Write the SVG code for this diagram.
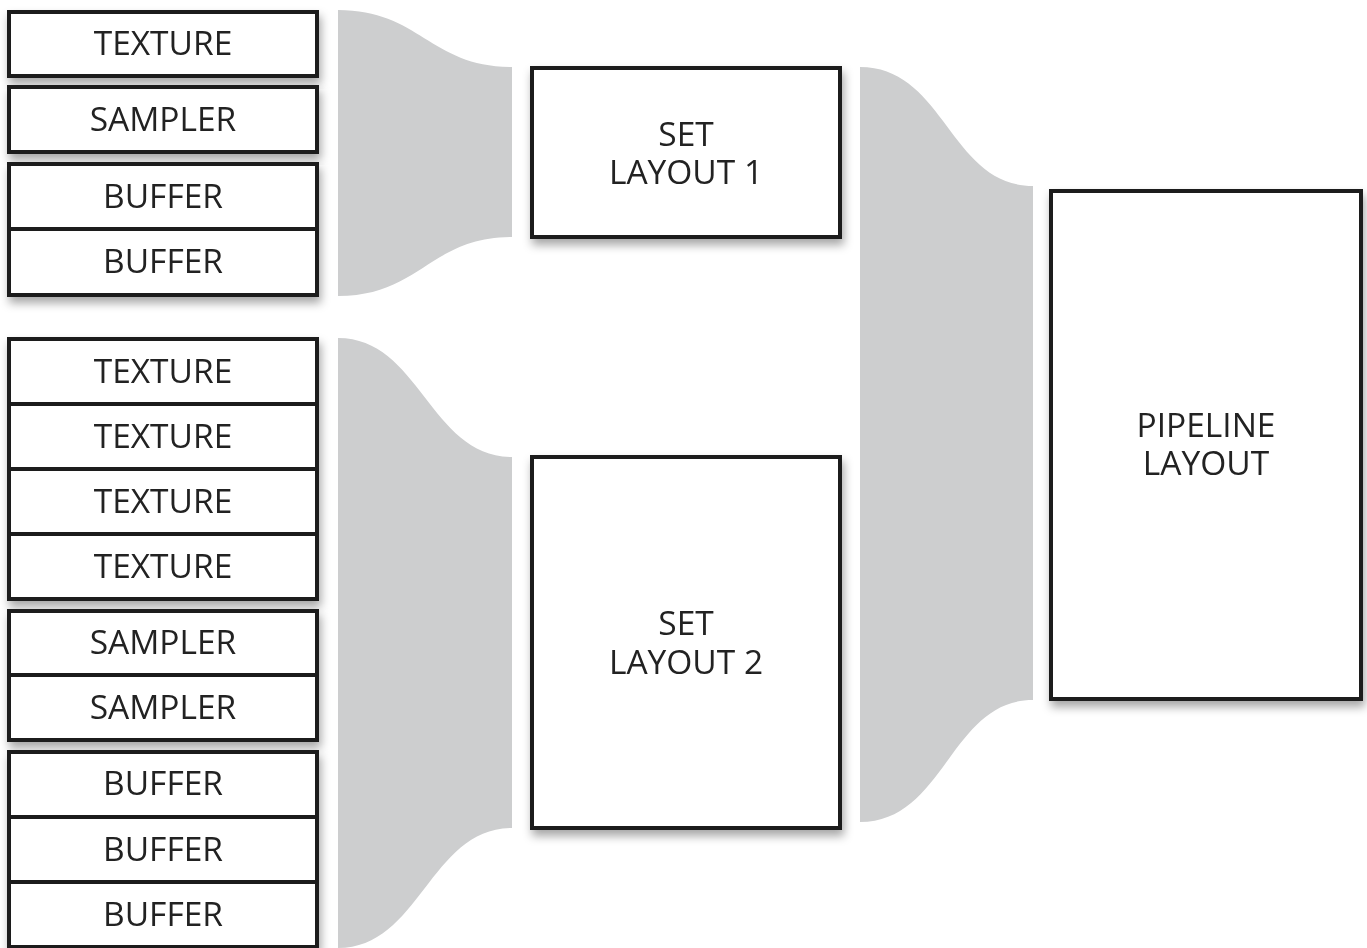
<svg xmlns="http://www.w3.org/2000/svg" width="1367" height="948" viewBox="0 0 1367 948">
<defs>
<filter id="sh" x="-10%" y="-10%" width="130%" height="130%">
<feDropShadow dx="2" dy="6" stdDeviation="5" flood-color="#000" flood-opacity="0.35"/>
</filter>
<style>
.box{fill:#fff;stroke:#1c1c1c;stroke-width:4}
.fun{fill:#cdcecf}
.t{font-family:"Open Sans","Liberation Sans",sans-serif;font-size:33.5px;fill:#232323;text-anchor:middle}
</style>
</defs>
<rect width="1367" height="948" fill="#fff"/>
<g id="connectors">
<path class="fun" d="M338,10 C420,10 430,67 512,67 L512,237 C430,237 420,296 338,296 Z"/>
<path class="fun" d="M338,338 C420,338 430,457 512,457 L512,828 C430,828 420,948 338,948 Z"/>
<path class="fun" d="M860,67 C945,67 950,186 1033,186 L1033,700 C950,700 945,822 860,822 Z"/>
</g>
<g id="tex1" filter="url(#sh)"><rect class="box" x="9" y="12" width="308" height="64"/><text class="t" x="163" y="55">TEXTURE</text></g>
<g id="samp1" filter="url(#sh)"><rect class="box" x="9" y="87" width="308" height="65"/><text class="t" x="163" y="131">SAMPLER</text></g>
<g id="buf1" filter="url(#sh)">
<rect class="box" x="9" y="164" width="308" height="65"/><text class="t" x="163" y="208">BUFFER</text>
<rect class="box" x="9" y="229" width="308" height="66"/><text class="t" x="163" y="273">BUFFER</text>
</g>
<g id="tex2" filter="url(#sh)">
<rect class="box" x="9" y="339" width="308" height="65"/><text class="t" x="163" y="383">TEXTURE</text>
<rect class="box" x="9" y="404" width="308" height="65"/><text class="t" x="163" y="448">TEXTURE</text>
<rect class="box" x="9" y="469" width="308" height="65"/><text class="t" x="163" y="513">TEXTURE</text>
<rect class="box" x="9" y="534" width="308" height="65"/><text class="t" x="163" y="578">TEXTURE</text>
</g>
<g id="samp2" filter="url(#sh)">
<rect class="box" x="9" y="611" width="308" height="64"/><text class="t" x="163" y="654">SAMPLER</text>
<rect class="box" x="9" y="675" width="308" height="65"/><text class="t" x="163" y="719">SAMPLER</text>
</g>
<g id="buf2" filter="url(#sh)">
<rect class="box" x="9" y="752" width="308" height="65"/><text class="t" x="163" y="795">BUFFER</text>
<rect class="box" x="9" y="817" width="308" height="65"/><text class="t" x="163" y="861">BUFFER</text>
<rect class="box" x="9" y="882" width="308" height="65"/><text class="t" x="163" y="926">BUFFER</text>
</g>
<g id="set1" filter="url(#sh)"><rect class="box" x="532" y="68" width="308" height="169"/><text class="t"><tspan x="686" y="146">SET</tspan><tspan x="686" y="184">LAYOUT 1</tspan></text></g>
<g id="set2" filter="url(#sh)"><rect class="box" x="532" y="457" width="308" height="371"/><text class="t"><tspan x="686" y="635">SET</tspan><tspan x="686" y="674">LAYOUT 2</tspan></text></g>
<g id="pipeline" filter="url(#sh)"><rect class="box" x="1051" y="191" width="310" height="508"/><text class="t"><tspan x="1206" y="437">PIPELINE</tspan><tspan x="1206" y="475">LAYOUT</tspan></text></g>
</svg>
